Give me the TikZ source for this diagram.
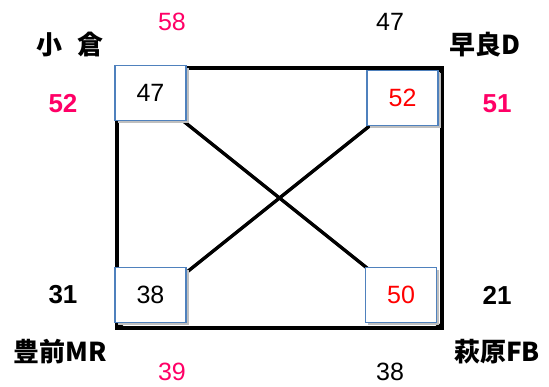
\documentclass[tikz,border=0pt]{standalone}
\usepackage{fontspec}
\setmainfont{Liberation Sans}
\newfontfamily\jp{Noto Sans CJK JP}
\definecolor{ScorePink}{HTML}{FF0066}
\definecolor{ScoreRed}{HTML}{FF0000}
\definecolor{BoxBlue}{HTML}{4F81BD}

\begin{document}
\begin{tikzpicture}[x=1pt, y=-1pt,
    edge/.style={black, line width=3.4pt},
    cross/.style={black, line width=3.4pt},
    score/.style={fill=white, minimum width=71pt, minimum height=55pt,
                  font=\fontsize{25}{25}\selectfont},
    frame/.style={draw=BoxBlue, line width=1.5pt},
    shade/.style={fill=black!25},
    team/.style={font=\jp\bfseries\fontsize{26}{26}\selectfont},
    num/.style={font=\fontsize{25}{25}\selectfont},
    bnum/.style={font=\bfseries\fontsize{26}{26}\selectfont},
  ]
    \useasboundingbox (0,0) rectangle (549,386);
    % corners of the field
    \coordinate (nw) at (117,68);
    \coordinate (ne) at (442,68);
    \coordinate (se) at (442,328);
    \coordinate (sw) at (117,328);
    \draw[edge] (nw) -- (ne) -- (se) -- (sw) -- cycle;
    \draw[cross] (nw) -- (se);
    \draw[cross] (sw) -- (ne);
    % shadows of the score boxes
    \foreach \p in {(150.5,93), (402.5,98), (150.5,295), (401,295)}
      \fill[shade] \p ++(-33,-25) rectangle ++(71,55);
    % score boxes
    \node[score] (bnw) at (150.5,93) {47};
    \node[score, text=ScoreRed] (bne) at (402.5,98) {52};
    \node[score] (bsw) at (150.5,295) {38};
    \node[score, text=ScoreRed] (bse) at (401,295) {50};
    \foreach \b in {bnw, bne, bsw, bse}
      \draw[frame] (\b.north west) rectangle (\b.south east);
    % team names
    \node[team] (kokura) at (70,45) {小\hspace{0.6em}倉};
    \node[team] (sawara) at (485,45) {早良D};
    \node[team] (buzen) at (60,352) {豊前MR};
    \node[team] (hagi) at (497,352) {萩原FB};
    % outer scores
    \node[num, text=ScorePink] (s58) at (172,22) {58};
    \node[num] (s47) at (390,22) {47};
    \node[bnum, text=ScorePink] (s52) at (63,104) {52};
    \node[bnum, text=ScorePink] (s51) at (497,104) {51};
    \node[bnum] (s31) at (63,295) {31};
    \node[bnum] (s21) at (497,295) {21};
    \node[num, text=ScorePink] (s39) at (172,372) {39};
    \node[num] (s38) at (390,372) {38};
\end{tikzpicture}
\end{document}
